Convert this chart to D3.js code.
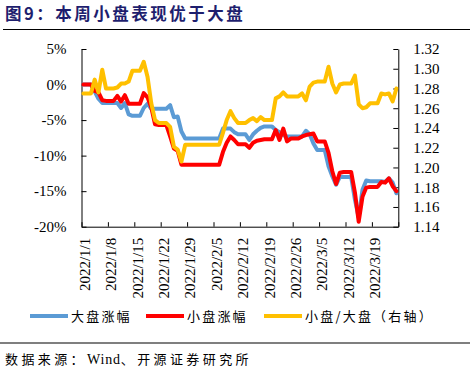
<!DOCTYPE html>
<html>
<head>
<meta charset="utf-8">
<script src="https://cdn.jsdelivr.net/npm/d3@7"></script>
<style>
  html, body { margin: 0; padding: 0; background: #fff; }
  svg { display: block; }
</style>
</head>
<body>
<svg id="chart" width="474" height="369"></svg>
<script>
// ---------------- DATA ----------------
const titleText = "图9：本周小盘表现优于大盘";
const sourceParts = ["数据来源：", "Wind", "、开源证券研究所"];
const startDate = "2022-01-01";
const endDate = "2022-03-26";
const xTickLabels = ["2022/1/1","2022/1/8","2022/1/15","2022/1/22","2022/1/29","2022/2/5",
  "2022/2/12","2022/2/19","2022/2/26","2022/3/5","2022/3/12","2022/3/19"];
const leftTicks = [5, 0, -5, -10, -15, -20];
const rightTicks = [1.32, 1.30, 1.28, 1.26, 1.24, 1.22, 1.20, 1.18, 1.16, 1.14];
const seriesNames = ["大盘涨幅", "小盘涨幅", "小盘/大盘（右轴）"];

// daily values (calendar days from 2022-01-01), %
const largeCap = [
  0, 0, 0, -1.0, -2.0, -2.6, -2.6,
  -2.6, -2.6, -2.6, -3.3, -2.6, -4.2, -4.4,
  -4.4, -4.4, -3.3, -2.7, -3.4, -3.4, -3.4,
  -3.4, -3.4, -2.9, -4.6, -4.5, -6.6, -7.6,
  -7.6, -7.6, -7.6, -7.6, -7.6, -7.6, -7.6,
  -7.6, -7.6, -6.2, -6.2, -6.2, -6.7, -7.0,
  -7.0, -7.0, -7.8, -7.0, -6.5, -6.1, -5.9,
  -5.9, -5.9, -6.4, -6.7, -7.1, -7.3, -7.3,
  -7.3, -7.3, -7.3, -6.5, -7.0, -8.3, -9.2,
  -9.2, -9.2, -11.5, -12.9, -14.1, -13.0, -13.0,
  -13.0, -13.0, -16.2, -18.7, -14.8, -13.5, -13.6,
  -13.6, -13.6, -13.6, -13.7, -13.2, -13.8, -15.3
];
const smallCap = [
  0, 0, 0, -0.9, -1.1, -2.2, -2.3,
  -2.3, -2.3, -1.6, -2.4, -1.5, -2.7, -2.7,
  -2.7, -2.7, -1.2, -1.8, -3.2, -5.6, -5.7,
  -5.7, -5.7, -7.3, -9.0, -9.3, -11.3, -11.3,
  -11.3, -11.3, -11.3, -11.3, -11.3, -11.3, -11.3,
  -11.3, -11.3, -9.5, -8.2, -7.3, -7.8, -8.4,
  -8.4, -8.4, -8.9, -8.2, -7.9, -7.8, -7.7,
  -7.7, -7.7, -6.4, -7.8, -6.2, -8.0, -7.6,
  -7.6, -7.6, -7.3, -7.1, -7.0, -6.9, -8.0,
  -8.0, -8.0, -9.6, -12.2, -14.0, -12.4, -12.3,
  -12.3, -12.3, -15.2, -19.3, -15.8, -14.5, -14.4,
  -14.4, -14.4, -13.7, -13.8, -13.2, -14.3, -15.0
];
const ratio = [
  1.275, 1.275, 1.275, 1.289, 1.276, 1.299, 1.280,
  1.280, 1.280, 1.281, 1.285, 1.285, 1.287, 1.298,
  1.298, 1.298, 1.307, 1.292, 1.265, 1.248, 1.245,
  1.245, 1.245, 1.241, 1.221, 1.218, 1.206, 1.223,
  1.223, 1.223, 1.223, 1.223, 1.223, 1.223, 1.223,
  1.223, 1.223, 1.235, 1.248, 1.257, 1.250, 1.245,
  1.245, 1.245, 1.248, 1.250, 1.247, 1.251, 1.248,
  1.248, 1.248, 1.270, 1.272, 1.276, 1.272, 1.272,
  1.272, 1.272, 1.275, 1.268, 1.282, 1.286, 1.287,
  1.287, 1.287, 1.302, 1.285, 1.276, 1.284, 1.285,
  1.285, 1.285, 1.293, 1.264, 1.260, 1.261, 1.265,
  1.265, 1.265, 1.275, 1.274, 1.275, 1.267, 1.280
];

// ---------------- CHART ----------------
const svg = d3.select("#chart");
const colors = ["#5B9BD5", "#FF0000", "#FFC000"];
const serif = "'Liberation Serif','Times New Roman',serif";
const cjk = "'Noto Sans CJK SC','Noto Sans',sans-serif";

const plot = { left: 81.5, right: 398.3, top: 49, bottom: 226.7 };

const d0 = new Date(startDate + "T00:00:00Z");
const d1 = new Date(endDate + "T00:00:00Z");
const dates = d3.utcDay.range(d0, d1);

const x = d3.scaleUtc().domain([d0, d1]).range([plot.left, plot.right]);
const yL = d3.scaleLinear().domain([-20, 5]).range([plot.bottom, plot.top]);
const yR = d3.scaleLinear().domain([1.14, 1.32]).range([plot.bottom, plot.top]);
const xc = d => x(d3.utcHour.offset(d, 12));

// Title
svg.append("text")
  .attr("x", 5).attr("y", 19.5)
  .style("font-family", cjk).style("font-size", "16.5px").style("font-weight", "bold")
  .style("letter-spacing", "2.5px")
  .attr("fill", "#1e1e6e")
  .text(titleText);
svg.append("line").attr("x1", 3).attr("x2", 470).attr("y1", 29.5).attr("y2", 29.5)
  .attr("stroke", "#000").attr("stroke-width", 1.2);

// Left axis
const leftAxis = d3.axisLeft(yL).tickValues(leftTicks).tickFormat(d => d + "%")
  .tickSizeInner(-5).tickSizeOuter(0).tickPadding(15);
const gL = svg.append("g").attr("transform", `translate(${plot.left},0)`).call(leftAxis);

// Right axis
const rightAxis = d3.axisRight(yR).tickValues(rightTicks).tickFormat(d3.format(".2f"))
  .tickSizeInner(-5).tickSizeOuter(0).tickPadding(15);
const gR = svg.append("g").attr("transform", `translate(${plot.right},0)`).call(rightAxis);

// Bottom axis
const tickDates = xTickLabels.map(s => {
  const p = s.split("/").map(Number);
  return new Date(Date.UTC(p[0], p[1] - 1, p[2]));
});
const bottomTicks = tickDates.concat([d1]);
const bottomAxis = d3.axisBottom(x).tickValues(bottomTicks)
  .tickFormat((d, i) => i < xTickLabels.length ? xTickLabels[i] : "")
  .tickSizeInner(-4.5).tickSizeOuter(0).tickPadding(0);
const gB = svg.append("g").attr("transform", `translate(0,${plot.bottom})`).call(bottomAxis);
gB.selectAll(".tick text")
  .attr("x", 0).attr("y", 0).attr("dy", "0.35em")
  .attr("transform", "translate(2.5,11) rotate(-90)")
  .style("text-anchor", "end");

[gL, gR, gB].forEach(g => {
  g.selectAll("text").style("font-family", serif).style("font-size", "15px").attr("fill", "#000");
  g.selectAll("line").attr("stroke", "#000");
  g.select(".domain").attr("stroke", "#000").attr("stroke-width", 1);
});

// Lines
const lineL = d3.line().x((d, i) => xc(dates[i])).y(d => yL(d));
const lineR = d3.line().x((d, i) => xc(dates[i])).y(d => yR(d));
const seriesData = [
  { vals: largeCap, gen: lineL },
  { vals: smallCap, gen: lineL },
  { vals: ratio, gen: lineR }
];
seriesData.forEach((s, k) => {
  svg.append("path").datum(s.vals)
    .attr("d", s.gen)
    .attr("fill", "none")
    .attr("stroke", colors[k])
    .attr("stroke-width", 4)
    .attr("stroke-linejoin", "round")
    .attr("stroke-linecap", "round");
});

// Legend
const legendLineX = [30, 146, 264];
const legendY = 316;
seriesNames.forEach((name, k) => {
  svg.append("line")
    .attr("x1", legendLineX[k]).attr("x2", legendLineX[k] + 38)
    .attr("y1", legendY).attr("y2", legendY)
    .attr("stroke", colors[k]).attr("stroke-width", 4);
  svg.append("text")
    .attr("x", legendLineX[k] + 41).attr("y", legendY + 5)
    .style("font-family", cjk).style("font-size", "13px")
    .style("letter-spacing", "2.2px")
    .attr("fill", "#000")
    .text(name);
});

// Footer
svg.append("line").attr("x1", 0).attr("x2", 470).attr("y1", 343).attr("y2", 343)
  .attr("stroke", "#000").attr("stroke-width", 1.2);
const foot = svg.append("text")
  .attr("x", 5).attr("y", 364)
  .style("font-size", "13px")
  .attr("fill", "#000");
sourceParts.forEach((t, i) => {
  foot.append("tspan")
    .style("font-family", i === 1 ? serif : cjk)
    .style("font-size", i === 1 ? "14px" : "13px")
    .style("letter-spacing", i === 1 ? "0.8px" : "3.4px")
    .text(t);
});
</script>
</body>
</html>
